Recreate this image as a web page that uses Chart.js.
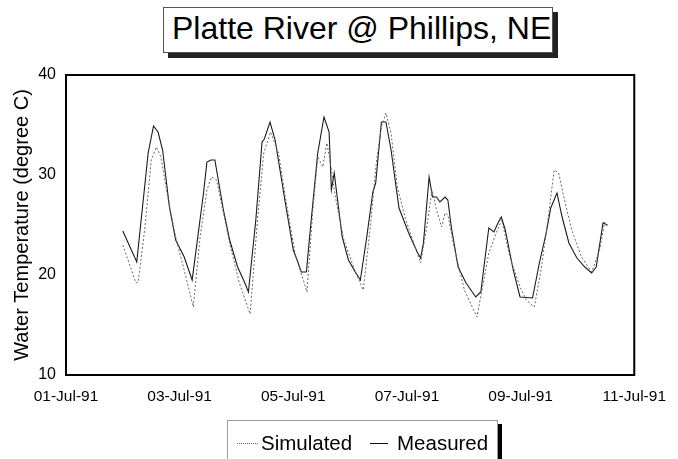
<!DOCTYPE html>
<html>
<head>
<meta charset="utf-8">
<script src="https://cdn.jsdelivr.net/npm/chart.js@4/dist/chart.umd.min.js"></script>
<style>
  html, body { margin: 0; padding: 0; background: #fff; }
  #wrap { position: relative; width: 678px; height: 459px; overflow: hidden; font-family: "Liberation Sans", Arial, sans-serif; color: #000; }
  #c { position: absolute; left: 0; top: 0; }
  #titleBox { position: absolute; left: 163px; top: 7px; width: 388px; height: 44px; border: 1px solid #555; box-shadow: 5px 5px 0 #222; background: #fff; }
  #titleText { position: absolute; left: 172px; top: 12px; font-size: 32px; line-height: 32px; white-space: nowrap; }
  #legendBox { position: absolute; left: 227px; top: 420px; width: 269px; height: 60px; border: 1px solid #999; box-shadow: 4px 4px 0 #000; background: #fff; }
  .lg { position: absolute; font-size: 20.5px; line-height: 20.5px; top: 433px; white-space: nowrap; }
  .sw { position: absolute; top: 443px; height: 0; }
</style>
</head>
<body>
<div id="wrap">
  <div id="titleBox"></div>
  <div id="titleText">Platte River @ Phillips, NE</div>
  <canvas id="c" width="678" height="459"></canvas>
  <div id="legendBox"></div>
  <div class="sw" style="left:237px;width:21px;border-top:1px dotted #666;"></div>
  <div class="lg" style="left:261px;">Simulated</div>
  <div class="sw" style="left:370px;width:18px;border-top:1px solid #111;"></div>
  <div class="lg" style="left:397px;">Measured</div>
</div>
<script>
// x values: days since 01-Jul-91 00:00
const xTickLabels = ["01-Jul-91", "03-Jul-91", "05-Jul-91", "07-Jul-91", "09-Jul-91", "11-Jul-91"];
const yTicks = [10, 20, 30, 40];

const measuredDays = [1.00,1.245,1.446,1.54,1.62,1.70,1.82,1.93,2.08,2.22,2.42,2.48,2.55,2.62,2.77,2.88,3.02,3.14,3.21,3.34,3.45,3.49,3.59,3.68,3.86,4.00,4.08,4.14,4.23,4.31,4.43,4.54,4.63,4.67,4.72,4.86,4.97,5.09,5.18,5.29,5.40,5.45,5.55,5.63,5.72,5.86,6.03,6.18,6.24,6.29,6.39,6.45,6.52,6.58,6.67,6.72,6.78,6.90,7.04,7.21,7.30,7.44,7.53,7.61,7.66,7.73,7.87,7.99,8.21,8.33,8.45,8.53,8.64,8.73,8.85,8.99,9.13,9.25,9.33,9.45,9.53];
const measuredTemps = [24.4,21.3,32.2,34.9,34.3,32.5,26.8,23.5,21.8,19.5,28.2,31.3,31.5,31.5,26.5,23.5,20.8,19.3,18.3,25.5,33.3,33.6,35.3,33.5,27.2,22.5,21.3,20.3,20.3,25.2,32.2,35.8,34.3,28.5,30.2,23.8,21.5,20.3,19.5,23.7,28.3,29.2,35.3,35.3,32.5,26.7,24.2,22.3,21.7,23.2,29.8,27.8,27.8,27.3,27.8,27.5,24.8,20.8,19.2,17.8,18.3,24.7,24.3,25.3,25.8,24.5,20.5,17.8,17.7,21.2,24.2,26.7,28.2,25.8,23.2,21.7,20.8,20.2,20.8,25.2,25.0];

const simulatedDays = [1.00,1.23,1.27,1.39,1.50,1.59,1.67,1.79,1.93,2.08,2.24,2.36,2.48,2.56,2.65,2.77,2.88,3.05,3.24,3.37,3.48,3.60,3.74,3.86,4.03,4.24,4.34,4.43,4.52,4.59,4.63,4.74,4.89,5.06,5.23,5.35,5.46,5.55,5.63,5.72,5.83,5.98,6.12,6.24,6.35,6.44,6.52,6.61,6.67,6.72,6.84,7.01,7.23,7.33,7.44,7.59,7.67,7.81,7.99,8.10,8.24,8.36,8.48,8.59,8.67,8.76,8.90,9.07,9.25,9.39,9.48,9.53];
const simulatedTemps = [23.0,19.2,19.3,24.8,31.5,32.8,31.8,27.8,23.8,20.5,16.8,23.8,28.5,29.8,29.5,26.2,23.2,19.2,16.1,25.5,32.2,34.3,32.2,27.8,22.2,18.3,26.2,31.8,30.8,33.2,32.0,27.8,23.5,20.8,18.5,24.5,31.2,34.8,36.2,34.2,28.8,25.5,23.2,21.2,24.8,28.5,26.5,24.8,26.2,26.0,22.5,18.5,15.8,18.8,22.2,24.5,25.5,21.8,18.8,17.5,16.8,20.5,25.5,30.5,30.2,27.8,24.5,21.8,20.3,22.5,25.3,24.8];

const toPts = (xs, ys) => xs.map((x, i) => ({ x: x, y: ys[i] }));

const frame = {
  id: 'frame',
  afterDatasetsDraw(chart) {
    const a = chart.chartArea, ctx = chart.ctx;
    ctx.save();
    ctx.strokeStyle = '#000';
    ctx.lineWidth = 2;
    ctx.strokeRect(a.left, a.top, a.right - a.left, a.bottom - a.top);
    ctx.restore();
  }
};

new Chart(document.getElementById('c'), {
  type: 'line',
  data: {
    datasets: [
      { label: 'Simulated', data: toPts(simulatedDays, simulatedTemps), borderColor: '#666', borderWidth: 1, borderDash: [2, 2], pointRadius: 0, tension: 0, fill: false },
      { label: 'Measured', data: toPts(measuredDays, measuredTemps), borderColor: '#1a1a1a', borderWidth: 1.1, pointRadius: 0, tension: 0, fill: false }
    ]
  },
  options: {
    responsive: false,
    animation: false,
    layout: { padding: { left: 0, top: 75, right: 31, bottom: 0 } },
    plugins: { legend: { display: false }, title: { display: false }, tooltip: { enabled: false } },
    scales: {
      x: {
        type: 'linear', min: 0, max: 10,
        afterBuildTicks(s) { s.ticks = xTickLabels.map((_, i) => ({ value: i * 2 })); },
        afterFit(s) { s.height = 84; },
        grid: { display: false, drawTicks: false },
        border: { display: false },
        ticks: {
          maxRotation: 0, autoSkip: false, padding: 12, color: '#000',
          font: { family: '"Liberation Sans", Arial, sans-serif', size: 15.5 },
          callback: (v, i) => xTickLabels[i]
        }
      },
      y: {
        min: 10, max: 40,
        afterBuildTicks(s) { s.ticks = yTicks.map(v => ({ value: v })); },
        afterFit(s) { s.width = 66; },
        grid: { display: false, drawTicks: false },
        border: { display: false },
        ticks: {
          padding: 10, color: '#000',
          font: { family: '"Liberation Sans", Arial, sans-serif', size: 16 }
        },
        title: {
          display: true, text: 'Water Temperature (degree C)', color: '#000',
          padding: { top: 10, bottom: 0 },
          font: { family: '"Liberation Sans", Arial, sans-serif', size: 20 }
        }
      }
    }
  },
  plugins: [frame]
});
</script>
</body>
</html>
